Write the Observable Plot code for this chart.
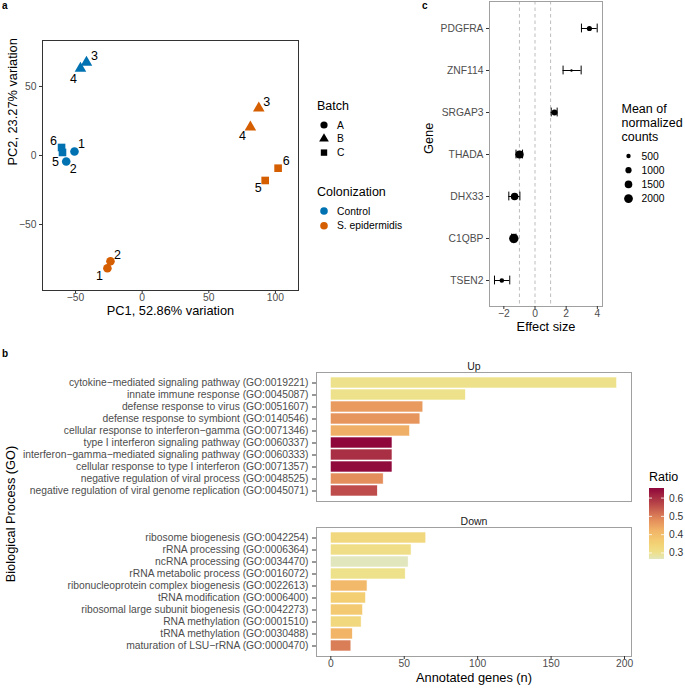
<!DOCTYPE html>
<html><head><meta charset="utf-8">
<script src="https://cdn.jsdelivr.net/npm/d3@7"></script>
<script src="https://cdn.jsdelivr.net/npm/@observablehq/plot@0.6"></script>
<style>
body{margin:0;background:#fff;font-family:"Liberation Sans",Arial,Helvetica,sans-serif;}
#root{position:relative;width:685px;height:689px;overflow:hidden;background:#fff;}
#root svg{overflow:visible;}
</style></head><body><div id="root"></div>
<script>
// ---------------- DATA ----------------
// Panel a: PCA
const pcaSample = ["1","2","3","4","5","6","1","2","3","4","5","6"];
const pcaColonization = ["Control","Control","Control","Control","Control","Control",
  "S. epidermidis","S. epidermidis","S. epidermidis","S. epidermidis","S. epidermidis","S. epidermidis"];
const pcaBatch = ["A","A","B","B","C","C","A","A","B","B","C","C"];
const pcaPC1 = [-50.8,-57.0,-41.8,-46.3,-59.8,-60.5,-26.1,-23.8,87.5,81.2,92.3,102.0];
const pcaPC2 = [2.9,-4.3,67.4,63.0,2.2,5.8,-81.7,-76.6,34.3,20.5,-18.1,-9.2];
const batchLevels = ["A","B","C"];
const colonizationLevels = ["Control","S. epidermidis"];
const pcaXTicks = [-50,0,50,100];
const pcaYTicks = [-50,0,50];

// Panel c: effect sizes
const genes = ["PDGFRA","ZNF114","SRGAP3","THADA","DHX33","C1QBP","TSEN2"];
const effectSize = [3.49,2.34,1.25,-0.99,-1.31,-1.36,-2.13];
const effectLow  = [2.98,1.80,1.04,-1.22,-1.68,-1.50,-2.60];
const effectHigh = [3.99,2.96,1.42,-0.80,-0.97,-1.22,-1.62];
const meanCounts = [700,150,900,1750,1500,2300,550];
const effectRefLines = [-1,0,1];
const effectTicks = [-2,0,2,4];
const sizeBreaks = [500,1000,1500,2000];

// Panel b: GO enrichment
const upTerms = [
  "cytokine\u2212mediated signaling pathway (GO:0019221)",
  "innate immune response (GO:0045087)",
  "defense response to virus (GO:0051607)",
  "defense response to symbiont (GO:0140546)",
  "cellular response to interferon\u2212gamma (GO:0071346)",
  "type I interferon signaling pathway (GO:0060337)",
  "interferon\u2212gamma\u2212mediated signaling pathway (GO:0060333)",
  "cellular response to type I interferon (GO:0071357)",
  "negative regulation of viral process (GO:0048525)",
  "negative regulation of viral genome replication (GO:0045071)"];
const upGenes = [195,92,63,61,54,42,42,42,36,32];
const upRatio = [0.30,0.30,0.46,0.47,0.43,0.655,0.60,0.65,0.48,0.56];
const downTerms = [
  "ribosome biogenesis (GO:0042254)",
  "rRNA processing (GO:0006364)",
  "ncRNA processing (GO:0034470)",
  "rRNA metabolic process (GO:0016072)",
  "ribonucleoprotein complex biogenesis (GO:0022613)",
  "tRNA modification (GO:0006400)",
  "ribosomal large subunit biogenesis (GO:0042273)",
  "RNA methylation (GO:0001510)",
  "tRNA methylation (GO:0030488)",
  "maturation of LSU\u2212rRNA (GO:0000470)"];
const downGenes = [65,55,53,51,25,24,22,21,15,14];
const downRatio = [0.33,0.31,0.267,0.30,0.41,0.36,0.37,0.33,0.42,0.50];
const ratioTicks = [0.3,0.4,0.5,0.6];
const geneTicks = [0,50,100,150,200];

// ---------------- STYLE ----------------
const FONT = "'Liberation Sans', Arial, Helvetica, sans-serif";
const TICK_FS = 10.3;
const colonizationColors = ["#0072B2","#D55E00"];
const batchSymbols = ["circle","triangle","square"];
const ratioStops = [0.267,0.30,0.35,0.42,0.48,0.56,0.655];
const ratioColors = ["#E2E6BD","#EEE18C","#F3D274","#F2B568","#E48E5B","#BD4C4A","#8E063B"];
const baseStyle = `font-family:${FONT};font-size:${TICK_FS}px;color:#4D4D4D;background:transparent;overflow:visible;max-width:none;`;
const root = document.getElementById("root");
function place(node, left, top){ node.style.position="absolute"; node.style.left=left+"px"; node.style.top=top+"px"; root.appendChild(node); }
const T = d => d;
const fmt = d => (d < 0 ? "\u2212" + Math.abs(d) : String(d));
const noText = () => "";
// tick marks from Plot's axes, tick labels from text marks
function xAxis(ticks){
  return [
    Plot.axisX({ticks, tickSize:3, tickFormat:noText, stroke:"#333", label:null}),
    Plot.text(ticks, {x:T, text:fmt, frameAnchor:"bottom", dy:10, fontSize:TICK_FS, fontFamily:FONT, fill:"#4D4D4D"})
  ];
}
function yAxis(ticks, tickSize, gap, formatter){
  return [
    Plot.axisY({ticks, tickSize, tickFormat:noText, stroke:"#333", label:null}),
    Plot.text(ticks, {y:T, text:formatter, frameAnchor:"left", dx:-(tickSize+gap), textAnchor:"end", fontSize:TICK_FS, fontFamily:FONT, fill:"#4D4D4D"})
  ];
}

// ---------------- PANEL A ----------------
const pcaData = pcaPC1.map((x,i)=>({pc1:x, pc2:pcaPC2[i], sample:pcaSample[i], col:pcaColonization[i], batch:pcaBatch[i]}));
const labelNudge = [[7,-7],[7,8],[8,-6],[-7,10],[-7,10],[-8,-6],[-8,8],[7,-6],[8,-6],[-8,9],[-7,8],[8,-7]];
const plotA = Plot.plot({
  width:300, height:330, marginLeft:42, marginRight:2, marginTop:40, marginBottom:40,
  style: baseStyle,
  x:{domain:[-74.8,117.3], axis:null},
  y:{domain:[-97.8,83.3], axis:null},
  color:{domain:colonizationLevels, range:colonizationColors},
  symbol:{domain:batchLevels, range:batchSymbols},
  marks:[
    Plot.frame({stroke:"#333", strokeWidth:1}),
    ...xAxis(pcaXTicks),
    ...yAxis(pcaYTicks, 3, 3, fmt),
    Plot.dot(pcaData, {x:"pc1", y:"pc2", fill:"col", symbol:"batch", r:4.3}),
    ...pcaData.map((d,i)=>Plot.text([d], {x:"pc1", y:"pc2", text:"sample", dx:labelNudge[i][0], dy:labelNudge[i][1], fontSize:12.5, fontFamily:FONT, fill:"black"})),
    Plot.text(["PC1, 52.86% variation"], {text:T, frameAnchor:"bottom", dy:24, fontSize:12.8, fontFamily:FONT, fill:"black"}),
    Plot.text(["PC2, 23.27% variation"], {text:T, frameAnchor:"left", dx:-30, rotate:-90, fontSize:12.8, fontFamily:FONT, fill:"black"})
  ]
});
place(plotA, 0, 0);

// ---------------- PANEL C ----------------
const geneData = genes.map((g,i)=>({gene:g, eff:effectSize[i], lo:effectLow[i], hi:effectHigh[i], mean:meanCounts[i]}));
const rDomain = [0,2400], rRange = [0,4.8];
const plotC = Plot.plot({
  width:185, height:340, marginLeft:69, marginRight:3, marginTop:1, marginBottom:34,
  style: baseStyle,
  x:{domain:[-2.92,4.33], axis:null},
  y:{type:"band", domain:genes, paddingInner:0, paddingOuter:0.1, axis:null},
  r:{type:"sqrt", domain:rDomain, range:rRange},
  marks:[
    Plot.ruleX(effectRefLines, {x:T, stroke:"#BDBDBD", strokeDasharray:"3.5,3"}),
    Plot.frame({stroke:"#A0A0A0"}),
    ...xAxis(effectTicks),
    ...yAxis(genes, 3, 3, T),
    Plot.ruleY(geneData, {y:"gene", x1:"lo", x2:"hi", stroke:"black"}),
    Plot.tickX(geneData, {x:"lo", y:"gene", stroke:"black", insetTop:16.6, insetBottom:16.6}),
    Plot.tickX(geneData, {x:"hi", y:"gene", stroke:"black", insetTop:16.6, insetBottom:16.6}),
    Plot.dot(geneData, {x:"eff", y:"gene", r:"mean", fill:"black"}),
    Plot.text(["Effect size"], {text:T, frameAnchor:"bottom", dy:24, fontSize:12.8, fontFamily:FONT, fill:"black"}),
    Plot.text(["Gene"], {text:T, frameAnchor:"left", dx:-61, rotate:-90, fontSize:12.8, fontFamily:FONT, fill:"black"})
  ]
});
place(plotC, 420, 0);

// ---------------- PANEL B ----------------
const colorOpts = {type:"linear", domain:ratioStops, range:ratioColors};
function goPlot(terms, genesN, ratios, strip, opts){
  const data = terms.map((t,i)=>({term:t, n:genesN[i], ratio:ratios[i]}));
  return Plot.plot({
    width:640, height:opts.height, marginLeft:316, marginRight:9, marginTop:opts.marginTop, marginBottom:opts.marginBottom,
    style: baseStyle,
    x:{domain:[-9.75,204.75], axis:null},
    y:{type:"band", domain:terms, paddingInner:0.1, paddingOuter:0.15, axis:null},
    color: colorOpts,
    marks:[
      Plot.frame({stroke:"#A0A0A0"}),
      ...yAxis(terms, 4, 4, T),
      ...(opts.showX ? xAxis(geneTicks) : []),
      Plot.barX(data, {x:"n", y:"term", fill:"ratio", stroke:"white", strokeWidth:0.6}),
      Plot.text([strip], {text:T, frameAnchor:"top", dy:-10, fontSize:10.5, fontFamily:FONT, fill:"#1A1A1A"}),
      opts.showX ? Plot.text(["Annotated genes (n)"], {text:T, frameAnchor:"bottom", dy:25, fontSize:12.8, fontFamily:FONT, fill:"black"}) : null
    ]
  });
}
place(goPlot(upTerms, upGenes, upRatio, "Up", {height:165, marginTop:32, marginBottom:4, showX:false}), 0, 340);
place(goPlot(downTerms, downGenes, downRatio, "Down", {height:179, marginTop:17, marginBottom:33, showX:true}), 0, 510);

// ---------------- OVERLAY: legends, panel letters ----------------
const ov = d3.create("svg").attr("width",685).attr("height",689).style("font-family",FONT).style("overflow","visible");
function txt(x,y,s,size,opt={}){
  const t = ov.append("text").attr("x",x).attr("y",y).attr("font-size",size).attr("dominant-baseline","central")
    .attr("fill",opt.fill||"black").text(s);
  if(opt.bold) t.attr("font-weight","bold");
  if(opt.rotate) t.attr("transform",`rotate(${opt.rotate},${x},${y})`).attr("text-anchor","middle");
  return t;
}
// panel letters
txt(2,5,"a",10,{bold:true});
txt(2,353,"b",10,{bold:true});
txt(422,5,"c",10,{bold:true});
// shared y title for panel b
txt(10,514,"Biological Process (GO)",12.8,{rotate:-90});

// Batch legend
const symMap = {circle:d3.symbolCircle, triangle:d3.symbolTriangle, square:d3.symbolSquare};
txt(317,106,"Batch",12.5);
batchLevels.forEach((b,i)=>{
  const y = 125 + i*13.8;
  ov.append("path").attr("d", d3.symbol(symMap[batchSymbols[i]], Math.PI*3.6*3.6)()).attr("transform",`translate(324,${y})`).attr("fill","black");
  txt(337,y,b,10.3);
});
txt(317,191.7,"Colonization",12.5);
colonizationLevels.forEach((c,i)=>{
  const y = 211 + i*14.7;
  ov.append("circle").attr("cx",324).attr("cy",y).attr("r",3.8).attr("fill",colonizationColors[i]);
  txt(337,y,c,10.3);
});

// Size legend
const rS = d3.scaleSqrt().domain(rDomain).range(rRange);
["Mean of","normalized","counts"].forEach((s,i)=>txt(621.5,109+i*14,s,12.5));
sizeBreaks.forEach((v,i)=>{
  const y = 156 + i*14.2;
  ov.append("circle").attr("cx",628.5).attr("cy",y).attr("r",rS(v)).attr("fill","black");
  txt(641.5,y,String(v),10.3);
});

// Ratio colorbar
const cS = d3.scaleLinear().domain(ratioStops).range(ratioColors);
const ymin = ratioStops[0], ymax = ratioStops[ratioStops.length-1];
const yS = d3.scaleLinear().domain([ymin,ymax]).range([559,488]);
txt(649,477,"Ratio",12.5);
const grad = ov.append("defs").append("linearGradient").attr("id","rg").attr("x1",0).attr("y1",1).attr("x2",0).attr("y2",0);
d3.range(0,1.0001,0.05).forEach(t=>{
  grad.append("stop").attr("offset",t).attr("stop-color",cS(ymin + t*(ymax-ymin)));
});
ov.append("rect").attr("x",649).attr("y",488).attr("width",15).attr("height",71).attr("fill","url(#rg)");
ratioTicks.forEach(v=>{
  const y = yS(v);
  ov.append("line").attr("x1",649).attr("x2",652).attr("y1",y).attr("y2",y).attr("stroke","white").attr("stroke-width",0.8);
  ov.append("line").attr("x1",661).attr("x2",664).attr("y1",y).attr("y2",y).attr("stroke","white").attr("stroke-width",0.8);
  txt(669,y,String(v),10.3,{fill:"#333"});
});
const ovNode = ov.node();
ovNode.style.pointerEvents = "none";
place(ovNode, 0, 0);
</script>
</body></html>
